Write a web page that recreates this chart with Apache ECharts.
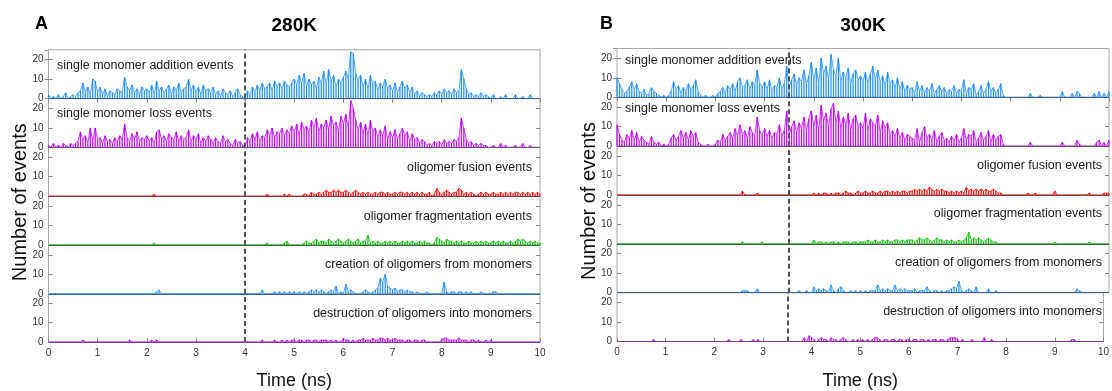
<!DOCTYPE html>
<html><head><meta charset="utf-8">
<script src="https://cdn.jsdelivr.net/npm/echarts@6/dist/echarts.min.js"></script>
<style>html,body{margin:0;padding:0;background:#fff}#c{width:1112px;height:391px}</style>
</head><body><div id="c"></div><script>
// sampling step of all series (ns)
const timeStep = 0.05;
const xTickValues = [0,1,2,3,4,5,6,7,8,9,10];
const yTickValues = [0,10,20];
const panelLetters = ['A', 'B'];
const panelTitles = ['280K', '300K'];
const markerTimes = [4, 3.5];
const rowLabels = ['single monomer addition events', 'single monomer loss events', 'oligomer fusion events',
  'oligomer fragmentation events', 'creation of oligomers from monomers', 'destruction of oligomers into monomers'];

// ---- Panel A (280K) ----
const A_add = [
2,0,1,0,2,0,1,3,0,1,2,1,3,4,8,3,6,2,10,9,
3,6,2,5,1,4,3,2,5,4,3,11,6,4,7,3,5,2,6,4,
5,3,7,2,9,4,6,3,5,7,2,6,4,8,3,5,6,10,4,7,
3,6,2,7,4,5,3,6,2,4,1,5,3,2,4,1,3,5,2,1,
0,4,2,6,3,7,4,8,5,6,8,4,9,6,8,5,9,7,6,8,
10,7,12,8,13,6,10,7,9,5,11,8,14,7,15,9,12,6,10,8,
11,14,10,24,23,13,9,12,6,10,5,12,7,9,4,8,6,10,5,7,
4,8,3,6,9,5,7,3,6,2,4,1,3,2,1,2,1,3,2,4,
2,5,3,4,2,5,3,4,15,10,5,2,3,1,2,1,3,1,2,1,
0,2,0,0,1,0,2,0,0,0,2,0,0,1,0,0,2,0,0,0,
0];
const A_loss = [
1,0,2,0,1,0,2,1,0,2,1,2,3,8,4,6,2,10,3,10,
4,5,2,6,3,4,2,5,3,6,4,12,5,3,7,4,8,3,5,4,
6,3,5,2,8,9,4,6,3,7,5,4,8,3,6,4,5,9,3,6,
4,7,2,5,3,6,4,2,5,3,2,6,3,4,2,1,4,2,3,1,
0,5,3,7,4,8,3,6,5,9,6,10,5,8,7,10,6,9,7,11,
8,12,6,13,9,11,7,14,10,15,8,12,10,14,9,16,11,13,8,16,
12,17,10,24,20,14,9,13,7,12,6,14,8,10,5,9,6,11,4,8,
5,9,4,7,10,6,8,3,7,4,5,2,4,3,1,2,1,3,2,3,
1,4,2,3,2,4,3,5,15,10,4,2,3,1,2,1,2,1,1,0,
0,1,0,0,2,0,1,0,0,0,1,0,0,2,0,0,1,0,0,0,
0];
const A_fusion = [
0,0,0,0,0,0,0,0,0,0,0,0,0,0,0,0,0,0,0,0,
0,0,0,0,0,0,0,0,0,0,0,0,0,0,0,0,0,0,0,0,
0,0,0,1,0,0,0,0,0,0,0,0,0,0,0,0,0,0,0,0,
0,0,0,0,0,0,0,0,0,0,0,0,0,0,0,0,0,0,0,0,
0,0,0,0,0,0,0,0,0,1,0,0,0,0,0,0,1,0,1,0,
0,0,0,0,1,1,0,2,1,1,2,1,2,3,2,2,3,2,3,2,
2,3,2,1,2,3,2,1,2,1,2,1,1,2,1,2,2,1,2,1,
1,2,1,2,2,1,2,1,2,1,2,1,2,1,1,2,0,1,4,2,
1,2,3,2,1,2,2,4,3,1,2,1,2,1,0,1,2,1,2,1,
1,2,1,1,2,1,2,1,2,1,2,2,1,2,1,2,1,2,1,2,
1];
const A_frag = [
0,0,0,0,0,0,0,0,0,0,0,0,0,0,0,0,0,0,0,0,
0,0,0,0,0,0,0,0,0,0,0,0,0,0,0,0,0,0,0,0,
0,0,0,1,0,0,0,0,0,0,0,0,0,0,0,0,0,0,0,0,
0,0,0,0,0,0,0,0,0,0,0,0,0,0,0,0,0,0,0,0,
0,0,0,0,0,0,0,0,0,1,0,0,0,0,0,0,1,2,0,0,
0,0,0,0,1,2,1,1,2,3,1,2,2,1,3,2,1,2,3,2,
1,2,3,2,1,2,3,1,2,2,5,1,2,1,2,1,1,2,1,2,
1,2,1,1,2,1,2,1,2,1,1,2,1,2,1,1,0,1,4,3,
2,1,3,2,2,1,2,1,2,1,1,2,1,1,2,1,2,1,2,1,
1,2,1,2,1,2,1,1,2,1,2,3,2,3,2,1,2,1,2,1,
1];
const A_create = [
0,0,0,0,0,0,0,0,0,0,0,0,0,0,0,0,0,0,0,0,
0,0,0,0,0,0,0,0,0,0,0,0,0,0,0,0,0,0,0,0,
0,0,0,0,1,2,0,0,0,0,0,0,0,0,0,0,0,0,0,0,
0,0,0,0,0,0,0,0,0,0,0,0,0,0,0,0,0,0,0,0,
0,0,0,0,0,0,0,2,0,0,0,0,1,0,1,0,1,0,1,0,
1,0,1,0,1,0,1,2,1,2,1,2,1,0,1,2,1,4,0,1,
0,5,1,2,1,0,0,0,1,2,1,0,1,2,3,8,6,10,4,3,
2,3,1,2,2,1,2,1,1,0,1,0,0,0,1,0,0,0,0,0,
0,6,1,0,1,1,0,1,1,0,1,0,1,0,0,0,1,0,0,0,
0,1,1,0,0,0,0,0,0,0,0,0,0,0,0,0,0,0,0,0,
0];
const A_destroy = [
0,0,0,0,0,0,0,0,0,0,0,0,0,0,1,0,0,0,0,0,
0,0,0,0,0,0,0,0,0,0,0,0,0,1,0,0,0,0,0,0,
0,0,1,0,1,0,0,0,0,0,0,0,0,0,0,0,0,0,0,0,
0,0,0,0,0,0,0,0,0,0,0,0,0,0,0,0,0,0,0,0,
0,0,0,0,0,0,0,1,0,0,0,0,1,0,0,1,0,1,0,1,
1,0,1,1,0,1,1,0,1,1,0,1,1,1,0,1,0,1,0,0,
2,1,1,0,1,0,1,1,2,1,1,1,2,1,1,2,2,1,2,1,
1,2,1,1,1,0,1,1,0,1,1,0,1,1,0,0,0,0,0,0,
1,2,2,1,1,1,1,2,1,1,1,0,1,1,0,1,0,0,1,0,
1,0,0,0,0,0,0,0,0,0,0,0,0,0,0,0,0,0,0,0,
0];

// ---- Panel B (300K) ----
const B_add = [
10,7,4,2,3,5,8,4,7,3,2,4,1,2,5,3,2,1,0,1,
0,1,3,8,4,6,2,5,3,7,4,6,9,3,1,0,1,0,0,1,
0,2,3,5,2,6,4,7,3,8,10,5,6,9,4,8,6,14,7,5,
8,4,9,3,6,5,10,4,7,16,5,9,12,6,10,8,14,7,11,18,
9,15,7,20,12,16,9,22,14,11,20,8,13,10,15,7,12,14,9,11,
8,13,7,12,16,9,14,8,11,6,13,7,9,5,10,4,8,3,6,4,
5,2,8,3,6,2,5,3,7,2,4,6,3,5,2,4,3,6,2,4,
3,9,2,5,4,7,1,3,6,2,4,8,3,5,2,4,7,1,0,0,
0,0,0,0,0,0,0,0,2,0,0,0,1,0,0,0,0,0,0,0,
0,3,0,0,0,2,0,3,2,0,0,0,0,0,2,0,3,0,2,0,
3];
const B_loss = [
11,6,3,2,6,4,8,3,7,2,5,3,2,1,5,2,1,2,0,1,
0,1,4,6,3,5,8,4,7,3,8,5,7,2,1,0,0,1,0,0,
1,3,2,6,3,5,7,4,9,5,11,6,8,4,10,7,5,15,8,6,
9,5,8,4,7,6,11,5,8,18,6,10,13,7,12,9,15,8,14,18,
10,16,8,21,13,17,10,19,22,12,18,9,15,11,17,8,14,16,10,12,
9,17,8,14,12,10,16,7,13,9,12,6,8,5,9,4,7,3,6,5,
4,3,9,2,7,10,4,6,3,8,2,5,7,3,4,2,5,3,6,2,
4,9,3,6,5,8,2,4,7,3,5,8,2,6,3,5,6,1,0,0,
0,0,0,0,0,0,0,0,2,0,0,0,0,0,0,0,0,0,0,0,
0,2,0,0,0,0,0,3,1,0,0,0,0,0,0,2,3,0,2,0,
3];
const B_fusion = [
0,0,0,0,0,0,0,0,0,0,0,0,0,0,0,0,0,0,0,0,
0,0,0,0,0,0,0,0,0,0,0,0,0,0,0,0,0,0,0,0,
0,0,0,0,0,0,0,0,0,0,0,2,0,0,0,0,0,1,0,0,
0,0,0,0,0,0,0,0,0,0,0,0,0,0,0,0,0,0,0,0,
1,0,1,0,1,1,0,1,0,1,1,0,1,2,1,1,0,1,2,1,
1,2,1,1,2,1,1,2,1,2,2,1,2,1,2,1,2,2,1,2,
2,3,2,3,2,3,2,4,3,2,3,2,3,2,2,1,2,1,2,1,
2,1,4,2,3,2,3,2,3,2,3,2,2,3,2,1,1,0,0,0,
0,0,0,0,0,0,0,1,0,0,1,0,0,0,0,0,0,0,2,0,
0,0,0,0,0,0,0,0,0,0,0,0,1,0,0,0,0,0,1,1,
1];
const B_frag = [
0,0,0,0,0,0,0,0,0,0,0,0,0,0,0,0,0,0,0,0,
0,0,0,0,0,0,0,0,0,0,0,0,0,0,0,0,0,0,0,0,
0,0,0,0,0,0,0,0,0,0,0,1,0,0,0,0,0,0,0,1,
0,0,0,0,0,0,0,0,0,0,0,0,0,0,0,0,0,0,0,0,
2,0,1,1,0,1,0,1,1,0,1,0,1,1,1,0,1,1,0,1,
1,1,2,1,1,2,1,1,2,1,2,1,1,2,2,1,2,1,2,2,
2,1,2,3,2,2,3,2,1,2,3,2,2,1,2,1,2,1,1,2,
1,2,3,6,2,3,2,3,2,1,2,3,2,1,1,0,0,0,0,0,
0,0,0,0,0,0,0,0,0,0,0,0,0,0,0,0,0,0,1,0,
0,0,0,0,0,0,0,0,0,0,0,0,1,0,0,0,0,0,0,0,
0];
const B_create = [
0,0,0,0,0,0,0,0,0,0,0,0,0,0,0,0,0,0,0,0,
0,0,0,0,0,0,0,0,0,0,0,0,0,0,0,0,0,0,0,0,
0,0,0,0,0,0,0,0,0,0,0,1,1,1,0,0,0,2,0,0,
0,0,0,0,0,0,0,0,0,0,0,0,0,0,1,0,0,1,0,0,
3,1,2,1,2,1,0,4,1,0,2,3,1,0,0,1,0,1,0,1,
0,1,0,1,1,1,4,1,2,1,2,1,1,4,1,2,1,2,1,1,
1,2,0,1,1,1,3,1,0,1,1,0,1,0,1,1,2,3,2,6,
1,0,1,2,1,0,3,0,0,0,0,2,0,0,1,0,0,0,0,0,
0,0,0,0,0,0,0,0,0,0,0,0,0,0,0,0,0,0,0,0,
0,0,0,0,0,0,0,2,1,0,0,0,0,0,0,0,0,0,0,0,
0];
const B_destroy = [
0,0,0,0,0,0,0,0,0,0,0,0,0,0,0,1,0,0,0,0,
0,0,0,0,0,0,0,0,0,0,0,0,0,0,0,0,0,0,0,0,
0,0,0,0,0,0,1,0,0,0,0,1,0,0,0,0,1,0,1,0,
0,0,0,0,0,0,0,0,0,0,0,0,0,0,0,0,0,2,0,3,
2,1,0,1,2,1,1,0,2,1,1,0,1,2,1,0,0,1,0,1,
0,1,0,1,0,1,2,2,1,0,1,1,0,1,1,0,1,1,0,1,
1,0,1,1,0,1,1,0,1,0,1,1,0,1,1,0,1,2,2,2,
1,0,1,0,0,0,1,0,0,0,0,2,0,0,1,0,0,0,0,0,
0,0,0,0,0,0,0,0,0,0,0,0,0,0,0,0,0,0,0,0,
0,0,0,0,0,0,0,1,1,0,0,0,0,0,0,0,0,0,0,0,
0];

const seriesColors = ['#1E8FFF', '#BE00FF', '#FF0000', '#00C000', '#1E8FFF', '#BE00FF'];
const baselineColors = ['#3a5f8a', '#6a4a7a', '#8a3a3a', '#3a6a3a', '#3a5f8a', '#7a3a8a'];
const FONT = '"Liberation Sans", Arial, Helvetica, sans-serif';

const panels = [
  { left: 48.5, width: 491.5, top: 49.8, h: 48.8, data: [A_add, A_loss, A_fusion, A_frag, A_create, A_destroy],
    letterX: 35, yNameX: 20, leftLabelX: 57, leftLabelDy: [16, 15], rightLabelX: 532, rightLabelDy: 20 },
  { left: 617, width: 492, top: 48.5, h: 48.84, data: [B_add, B_loss, B_fusion, B_frag, B_create, B_destroy],
    letterX: 600, yNameX: 589, leftLabelX: 625, leftLabelDy: [12, 11], rightLabelX: 1102, rightLabelDy: 19 }
];

const grid = [], xAxis = [], yAxis = [], series = [], graphic = [];
panels.forEach((P, p) => {
  for (let r = 0; r < 6; r++) {
    const gi = grid.length;
    grid.push({ left: P.left, top: P.top + r * P.h, width: P.width, height: P.h,
      show: true, borderColor: '#a8a8a8', borderWidth: 1, backgroundColor: 'transparent', containLabel: false });
    const last = r === 5;
    const bx = xAxis.length;
    xAxis.push({ type: 'value', gridIndex: gi, min: 0, max: 10, interval: 1, position: 'bottom',
      axisLine: { show: false }, splitLine: { show: false },
      axisTick: { show: last, inside: true, length: 4, lineStyle: { color: '#888' } },
      axisLabel: { show: last, fontSize: 10, color: '#333', margin: 6, fontFamily: FONT },
      name: last ? 'Time (ns)' : '', nameLocation: 'middle', nameGap: 30,
      nameTextStyle: { fontSize: 18, color: '#111', fontFamily: FONT } });
    if (r === 0) {
      xAxis.push({ type: 'value', gridIndex: gi, min: 0, max: 10, interval: 1, position: 'top',
        axisLine: { show: false }, splitLine: { show: false }, axisLabel: { show: false },
        axisTick: { show: true, inside: true, length: 4, lineStyle: { color: '#888' } } });
    }
    const ly = yAxis.length;
    yAxis.push({ type: 'value', gridIndex: gi, min: 0, max: 25, interval: 10, position: 'left',
      axisLine: { show: false }, splitLine: { show: false },
      axisTick: { show: true, inside: true, length: 4, lineStyle: { color: '#888' } },
      axisLabel: { fontSize: 10, color: '#333', margin: 5, showMaxLabel: false, fontFamily: FONT } });
    yAxis.push({ type: 'value', gridIndex: gi, min: 0, max: 25, interval: 10, position: 'right',
      axisLine: { show: false }, splitLine: { show: false }, axisLabel: { show: false },
      axisTick: { show: true, inside: true, length: 4, lineStyle: { color: '#888' } } });
    const pts = P.data[r].map((v, i) => [i * timeStep, v]);
    // impulses
    series.push({ type: 'bar', xAxisIndex: bx, yAxisIndex: ly, barWidth: 1.2, animation: false, z: 2,
      itemStyle: { color: seriesColors[r] }, data: pts,
      markLine: { silent: true, symbol: 'none', animation: false, z: 5, label: { show: false },
        data: [
          { xAxis: markerTimes[p], lineStyle: { type: [5, 3], color: '#555', width: 2 } },
          { yAxis: 0, lineStyle: { type: 'solid', color: baselineColors[r], width: 1.2 } }
        ] } });
    // envelope line
    series.push({ type: 'line', xAxisIndex: bx, yAxisIndex: ly, showSymbol: false, symbol: 'none',
      sampling: false, animation: false, z: 3,
      lineStyle: { width: 0.8, color: seriesColors[r] }, itemStyle: { color: seriesColors[r] }, data: pts });
    const isLeft = r < 2;
    graphic.push({ type: 'text', silent: true, z: 10,
      x: isLeft ? P.leftLabelX : P.rightLabelX,
      y: P.top + r * P.h + (isLeft ? P.leftLabelDy[r] : P.rightLabelDy),
      style: { text: rowLabels[r], fill: '#1a1a1a', font: '12.5px ' + FONT,
        textAlign: isLeft ? 'left' : 'right', textVerticalAlign: 'middle' } });
  }
  graphic.push({ type: 'text', x: P.letterX, y: 24, style: { text: panelLetters[p], fill: '#000',
    font: 'bold 18px ' + FONT, textAlign: 'left', textVerticalAlign: 'middle' } });
  graphic.push({ type: 'text', x: P.left + P.width / 2, y: 26, style: { text: panelTitles[p], fill: '#000',
    font: 'bold 19px ' + FONT, textAlign: 'center', textVerticalAlign: 'middle' } });
  graphic.push({ type: 'text', x: P.yNameX, y: P.top + 3 * P.h + 6, rotation: Math.PI / 2,
    style: { text: 'Number of events', fill: '#111', font: '20px ' + FONT,
      textAlign: 'center', textVerticalAlign: 'middle' } });
});

const chart = echarts.init(document.getElementById('c'), null, { renderer: 'canvas' });
chart.setOption({ animation: false, backgroundColor: '#fff', grid, xAxis, yAxis, series, graphic });
</script></body></html>
